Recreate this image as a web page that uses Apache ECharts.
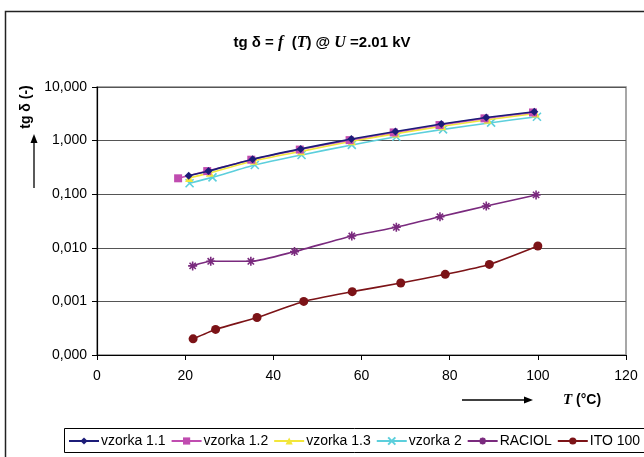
<!DOCTYPE html>
<html>
<head>
    <meta charset="utf-8">
    <title>tg delta</title>
    <script src="https://cdn.jsdelivr.net/npm/echarts@6.0.0/dist/echarts.min.js"></script>
</head>
<body style="margin:0;background:#fff;">
<div id="main" style="width:644px;height:457px;"></div>
<script type="text/javascript">
    // odčítané hodnoty [T, tg δ]
    var vzorka11 = [[20.8,0.22],[25.3,0.27],[35.3,0.45],[46.2,0.70],[57.7,1.07],[67.7,1.48],[78.1,2.04],[88.3,2.69],[99.2,3.45]];
    var vzorka12 = [[18.4,0.198],[25.0,0.27],[35.0,0.44],[46.0,0.68],[57.3,1.02],[67.3,1.42],[77.7,1.95],[87.9,2.6],[98.9,3.35]];
    var vzorka13 = [[20.9,0.20],[25.6,0.25],[35.6,0.42],[46.3,0.63],[57.8,0.97],[67.8,1.35],[78.3,1.85],[88.6,2.45],[99.5,3.2]];
    var vzorka2  = [[21.0,0.16],[26.2,0.206],[35.8,0.35],[46.4,0.54],[57.8,0.83],[67.9,1.18],[78.5,1.62],[89.4,2.16],[99.8,2.79]];
    var raciol   = [[21.7,0.0046],[25.8,0.0056],[34.9,0.0056],[44.8,0.0085],[57.8,0.0166],[67.9,0.0241],[77.8,0.038],[88.3,0.060],[99.6,0.097]];
    var ito100   = [[21.8,0.0002],[26.9,0.0003],[36.3,0.0005],[46.9,0.0010],[57.9,0.00152],[68.9,0.0022],[79.0,0.0032],[89.0,0.0049],[100,0.0108]];

    var names   = ['vzorka 1.1','vzorka 1.2','vzorka 1.3','vzorka 2','RACIOL','ITO 100'];
    var colors  = ['#1c1c78','#c04cb0','#f2e63a','#5ccfdc','#7a2a7e','#7c1317'];
    var symbols = ['diamond','rect','triangle','path://M0,0L10,10M10,0L0,10','path://M5,0L5,10M0,5L10,5M1.5,1.5L8.5,8.5M8.5,1.5L1.5,8.5','circle'];
    var sizes   = [8,8,8,8,9,9];
    var datasets = [vzorka11, vzorka12, vzorka13, vzorka2, raciol, ito100];

    var font = 'Liberation Sans, Arial, sans-serif';

    var series = [];
    for (let i = 0; i < names.length; i++) {
        let isLine = symbols[i].indexOf('path://') === 0;
        series.push({
            name: names[i],
            type: 'line',
            data: datasets[i],
            smooth: 0.2,
            symbol: symbols[i],
            symbolSize: sizes[i],
            showAllSymbol: true,
            lineStyle: { color: colors[i], width: 1.6 },
            itemStyle: isLine
                ? { color: colors[i], borderColor: colors[i], borderWidth: 1.6 }
                : { color: colors[i], borderColor: colors[i], borderWidth: 0 },
            z: 10 - i
        });
    }

    var myChart = echarts.init(document.getElementById('main'));
    myChart.setOption({
        animation: false,
        backgroundColor: '#fff',
        title: {
            left: 'center',
            top: 30,
            textStyle: {
                rich: {
                    b: { fontFamily: font, fontWeight: 'bold', fontSize: 15, color: '#000' },
                    i: { fontFamily: 'Liberation Serif, Times New Roman, serif', fontStyle: 'italic', fontWeight: 'bold', fontSize: 16, color: '#000' }
                }
            },
            text: '{b|tg δ = }{i|f}{b|  (}{i|T}{b|) @ }{i|U}{b| =2.01 kV}'
        },
        grid: {
            left: 97,
            right: 18,
            top: 87,
            bottom: 102,
            show: true,
            borderColor: '#8a8a8a',
            borderWidth: 1.5,
            containLabel: false
        },
        xAxis: {
            type: 'value',
            min: 0,
            max: 120,
            interval: 20,
            axisLine: { lineStyle: { color: '#000', width: 1.2 } },
            axisTick: { show: true, inside: false, length: 5, lineStyle: { color: '#000' } },
            axisLabel: { color: '#000', fontFamily: font, fontSize: 14, margin: 14 },
            splitLine: { show: false }
        },
        yAxis: {
            type: 'log',
            logBase: 10,
            min: 0.0001,
            max: 10,
            axisLine: { show: true, lineStyle: { color: '#000', width: 1.2 } },
            axisTick: { show: true, inside: false, length: 5, lineStyle: { color: '#000' } },
            axisLabel: {
                color: '#000', fontFamily: font, fontSize: 14, margin: 10,
                formatter: function (v) { return v.toFixed(3).replace('.', ','); }
            },
            splitLine: { show: true, lineStyle: { color: '#555', width: 1.2 } },
            minorTick: { show: false },
            minorSplitLine: { show: false }
        },
        legend: {
            data: names,
            left: 68,
            top: 434,
            width: 900,
            itemWidth: 30,
            itemHeight: 9,
            itemGap: 5,
            padding: 0,
            textStyle: { fontFamily: font, fontSize: 14, color: '#000', padding: [0, 0, 0, -3] }
        },
        graphic: [
            // rámček grafu
            { type: 'rect', shape: { x: 5.5, y: 11.5, width: 700, height: 500 }, style: { fill: null, stroke: '#222', lineWidth: 1.5 }, silent: true },
            // rámček legendy
            { type: 'rect', shape: { x: 64.5, y: 428.5, width: 620, height: 24 }, style: { fill: null, stroke: '#000', lineWidth: 1 }, silent: true, z: -1 },
            // popis osi y
            { type: 'text', x: 26, y: 107, rotation: Math.PI / 2, style: { text: 'tg δ (-)', font: 'bold 14px ' + font, fill: '#000', align: 'center', verticalAlign: 'middle' } },
            { type: 'line', shape: { x1: 34, y1: 188, x2: 34, y2: 141 }, style: { stroke: '#000', lineWidth: 1.3 } },
            { type: 'polygon', shape: { points: [[34, 134], [30.5, 143], [37.5, 143]] }, style: { fill: '#000' } },
            // popis osi x
            { type: 'line', shape: { x1: 462, y1: 400, x2: 525, y2: 400 }, style: { stroke: '#000', lineWidth: 1.3 } },
            { type: 'polygon', shape: { points: [[533, 400], [524, 396.5], [524, 403.5]] }, style: { fill: '#000' } },
            {
                type: 'text', x: 563, y: 400,
                style: {
                    text: '{i|T}{b| (°C)}',
                    verticalAlign: 'middle',
                    rich: {
                        i: { fontFamily: 'Liberation Serif, Times New Roman, serif', fontStyle: 'italic', fontWeight: 'bold', fontSize: 15, fill: '#000' },
                        b: { fontFamily: font, fontWeight: 'bold', fontSize: 14, fill: '#000' }
                    }
                }
            }
        ],
        series: series
    });
</script>
</body>
</html>
